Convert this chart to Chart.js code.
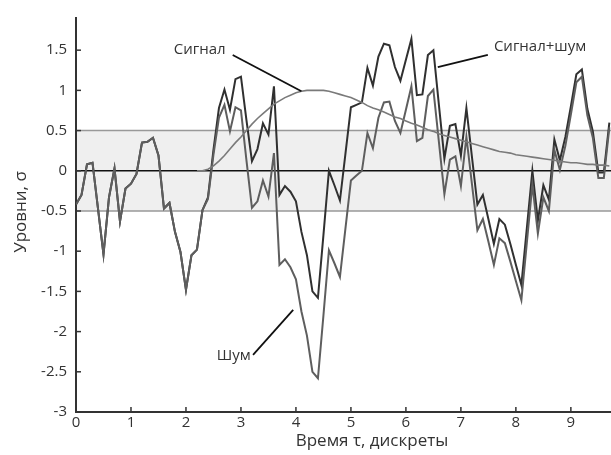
<!DOCTYPE html>
<html>
<head>
<meta charset="utf-8">
<script src="https://cdn.jsdelivr.net/npm/chart.js@4/dist/chart.umd.min.js"></script>
<style>
  body { margin: 0; background: #fff; }
  canvas { display: block; }
</style>
</head>
<body>
<canvas id="c" width="611" height="455"></canvas>
<script>
// time samples, step 0.1
const times = [
  0.0, 0.1, 0.2, 0.3, 0.4, 0.5, 0.6, 0.7, 0.8, 0.9,
  1.0, 1.1, 1.2, 1.3, 1.4, 1.5, 1.6, 1.7, 1.8, 1.9,
  2.0, 2.1, 2.2, 2.3, 2.4, 2.5, 2.6, 2.7, 2.8, 2.9,
  3.0, 3.1, 3.2, 3.3, 3.4, 3.5, 3.6, 3.7, 3.8, 3.9,
  4.0, 4.1, 4.2, 4.3, 4.4, 4.5, 4.6, 4.7, 4.8, 4.9,
  5.0, 5.1, 5.2, 5.3, 5.4, 5.5, 5.6, 5.7, 5.8, 5.9,
  6.0, 6.1, 6.2, 6.3, 6.4, 6.5, 6.6, 6.7, 6.8, 6.9,
  7.0, 7.1, 7.2, 7.3, 7.4, 7.5, 7.6, 7.7, 7.8, 7.9,
  8.0, 8.1, 8.2, 8.3, 8.4, 8.5, 8.6, 8.7, 8.8, 8.9,
  9.0, 9.1, 9.2, 9.3, 9.4, 9.5, 9.6, 9.7
];

const noise = [
  -0.42, -0.30, 0.08, 0.10, -0.47, -1.04, -0.33, 0.03, -0.63, -0.22,
  -0.16, -0.04, 0.35, 0.36, 0.41, 0.19, -0.47, -0.40, -0.76, -1.01,
  -1.48, -1.05, -0.98, -0.49, -0.35, 0.20, 0.66, 0.82, 0.49, 0.79,
  0.75, 0.13, -0.46, -0.38, -0.12, -0.32, 0.22, -1.17, -1.10, -1.20,
  -1.35, -1.75, -2.05, -2.50, -2.58, -1.80, -0.99, -1.15, -1.32, -0.72,
  -0.12, -0.06, 0.00, 0.47, 0.28, 0.66, 0.85, 0.86, 0.62, 0.47,
  0.76, 1.05, 0.37, 0.41, 0.93, 1.01, 0.36, -0.29, 0.14, 0.18,
  -0.19, 0.42, -0.16, -0.74, -0.60, -0.88, -1.17, -0.84, -0.90, -1.13,
  -1.37, -1.61, -0.89, -0.17, -0.78, -0.33, -0.50, 0.26, 0.01, 0.31,
  0.70, 1.10, 1.17, 0.69, 0.41, -0.09, -0.09, 0.54
];

const signal = [
  null, null, null, null, null, null, null, null, null, null,
  null, null, null, null, null, null, null, null, null, null,
  null, null, 0.00, 0.00, 0.02, 0.06, 0.12, 0.19, 0.27, 0.35,
  0.42, 0.50, 0.58, 0.65, 0.71, 0.77, 0.83, 0.87, 0.91, 0.94,
  0.97, 0.99, 1.00, 1.00, 1.00, 1.00, 0.99, 0.97, 0.95, 0.93,
  0.91, 0.88, 0.85, 0.81, 0.78, 0.76, 0.73, 0.70, 0.67, 0.65,
  0.62, 0.59, 0.57, 0.54, 0.51, 0.49, 0.46, 0.44, 0.42, 0.40,
  0.38, 0.36, 0.34, 0.32, 0.30, 0.28, 0.26, 0.24, 0.23, 0.22,
  0.20, 0.19, 0.18, 0.17, 0.16, 0.15, 0.14, 0.13, 0.12, 0.11,
  0.10, 0.10, 0.09, 0.08, 0.08, 0.07, 0.07, 0.06
];

const sigNoise = [
  -0.42, -0.30, 0.08, 0.10, -0.47, -1.04, -0.33, 0.03, -0.63, -0.22,
  -0.16, -0.04, 0.35, 0.36, 0.41, 0.19, -0.47, -0.40, -0.76, -1.01,
  -1.48, -1.05, -0.98, -0.49, -0.33, 0.26, 0.78, 1.01, 0.76, 1.14,
  1.17, 0.63, 0.12, 0.27, 0.59, 0.45, 1.05, -0.30, -0.19, -0.26,
  -0.38, -0.76, -1.05, -1.50, -1.58, -0.80, 0.00, -0.18, -0.37, 0.21,
  0.79, 0.82, 0.85, 1.28, 1.06, 1.42, 1.58, 1.56, 1.29, 1.12,
  1.38, 1.64, 0.94, 0.95, 1.44, 1.50, 0.82, 0.15, 0.56, 0.58,
  0.19, 0.78, 0.18, -0.42, -0.30, -0.60, -0.91, -0.60, -0.67, -0.91,
  -1.17, -1.42, -0.71, 0.00, -0.62, -0.18, -0.36, 0.39, 0.13, 0.42,
  0.80, 1.20, 1.26, 0.77, 0.49, -0.02, -0.02, 0.60
];

const xTicks = [0, 1, 2, 3, 4, 5, 6, 7, 8, 9];
const yTicks = [-3, -2.5, -2, -1.5, -1, -0.5, 0, 0.5, 1, 1.5];
const bandLevels = [-0.5, 0.5];

const labels = [
  { text: "Сигнал", at: [2.25, 1.5], from: [2.85, 1.44], to: [4.1, 0.99] },
  { text: "Сигнал+шум", at: [8.44, 1.54], from: [7.49, 1.44], to: [6.58, 1.29] },
  { text: "Шум", at: [2.87, -2.3], from: [3.22, -2.29], to: [3.95, -1.73] },
];

const font = "'Open Sans', 'DejaVu Sans', sans-serif";
const ink = "#333";

const pts = (vals) => times.map((t, i) => ({ x: t, y: vals[i] }));

const decor = {
  id: "decor",
  beforeDraw(chart) {
    const { ctx, chartArea: a, scales: { y } } = chart;
    const top = y.getPixelForValue(bandLevels[1]);
    const bot = y.getPixelForValue(bandLevels[0]);
    ctx.save();
    ctx.fillStyle = "#efefef";
    ctx.fillRect(a.left, top, a.right - a.left, bot - top);
    ctx.lineWidth = 1.5;
    ctx.strokeStyle = "#999";
    [top, bot].forEach((p) => {
      ctx.beginPath();
      ctx.moveTo(a.left, p);
      ctx.lineTo(a.right, p);
      ctx.stroke();
    });
    const z = y.getPixelForValue(0);
    ctx.strokeStyle = "#111";
    ctx.beginPath();
    ctx.moveTo(a.left, z);
    ctx.lineTo(a.right, z);
    ctx.stroke();
    ctx.restore();
  },
  afterDraw(chart) {
    const { ctx, chartArea: a, scales: { x, y } } = chart;
    ctx.save();
    // inward tick marks
    ctx.strokeStyle = ink;
    ctx.lineWidth = 1.5;
    yTicks.forEach((v) => {
      const p = y.getPixelForValue(v);
      ctx.beginPath();
      ctx.moveTo(a.left, p);
      ctx.lineTo(a.left + 5, p);
      ctx.stroke();
    });
    xTicks.forEach((v) => {
      const p = x.getPixelForValue(v);
      ctx.beginPath();
      ctx.moveTo(p, a.bottom);
      ctx.lineTo(p, a.bottom - 5);
      ctx.stroke();
    });

    // callouts
    ctx.font = `15px ${font}`;
    ctx.fillStyle = ink;
    ctx.textAlign = "center";
    ctx.textBaseline = "middle";
    labels.forEach((l) => {
      ctx.fillText(l.text, x.getPixelForValue(l.at[0]), y.getPixelForValue(l.at[1]));
      ctx.strokeStyle = "#111";
      ctx.lineWidth = 1.8;
      ctx.beginPath();
      ctx.moveTo(x.getPixelForValue(l.from[0]), y.getPixelForValue(l.from[1]));
      ctx.lineTo(x.getPixelForValue(l.to[0]), y.getPixelForValue(l.to[1]));
      ctx.stroke();
    });

    // axis titles
    ctx.font = `17px ${font}`;
    ctx.fillText("Время τ, дискреты", 372, 441);
    ctx.translate(21, 212);
    ctx.rotate(-Math.PI / 2);
    ctx.fillText("Уровни, σ", 0, 0);
    ctx.restore();
  },
};

Chart.defaults.font.family = font;
Chart.defaults.font.size = 15;
Chart.defaults.color = ink;

new Chart(document.getElementById("c"), {
  type: "line",
  data: {
    datasets: [
      { label: "Сигнал", data: pts(signal), borderColor: "#7a7a7a", borderWidth: 1.6, order: 0 },
      { label: "Шум", data: pts(noise), borderColor: "#5e5e5e", borderWidth: 2, order: 1 },
      { label: "Сигнал+шум", data: pts(sigNoise), borderColor: "#303030", borderWidth: 2, order: 2 },
    ],
  },
  options: {
    responsive: false,
    animation: false,
    parsing: false,
    elements: { point: { radius: 0 }, line: { tension: 0 } },
    layout: { padding: { top: 15, right: 0, left: 0, bottom: 0 } },
    plugins: { legend: { display: false }, tooltip: { enabled: false } },
    scales: {
      x: {
        type: "linear",
        min: 0,
        max: 9.73,
        grid: { display: false, drawTicks: false },
        border: { display: true, color: ink, width: 2 },
        ticks: { padding: 2, callback: (v) => String(v) },
        afterBuildTicks: (s) => { s.ticks = xTicks.map((v) => ({ value: v })); },
        afterFit: (s) => { s.height = 43; },
      },
      y: {
        type: "linear",
        min: -3,
        max: 1.9,
        grid: { display: false, drawTicks: false },
        border: { display: true, color: ink, width: 2 },
        ticks: { padding: 9, callback: (v) => String(v) },
        afterBuildTicks: (s) => { s.ticks = yTicks.map((v) => ({ value: v })); },
        afterFit: (s) => { s.width = 76; },
      },
    },
  },
  plugins: [decor],
});
</script>
</body>
</html>
